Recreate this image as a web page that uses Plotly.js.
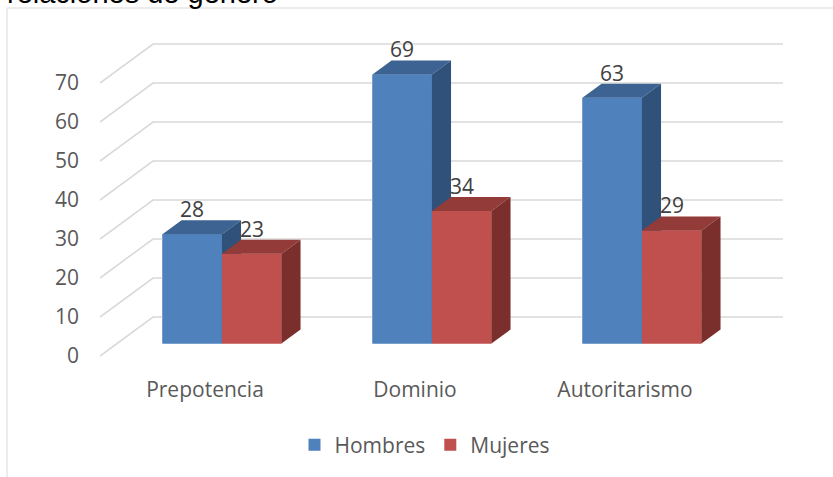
<!DOCTYPE html>
<html>
<head>
<meta charset="utf-8">
<script src="https://cdn.plot.ly/plotly-3.0.1.min.js"></script>
<style>html,body{margin:0;padding:0;background:#fff;}#chart{width:833px;height:477px;}</style>
</head>
<body>
<div id="chart"></div>
<script>
// ---- data ----
const categories = ['Prepotencia', 'Dominio', 'Autoritarismo'];
const hombres = [28, 69, 63];
const mujeres = [23, 34, 29];
const seriesNames = ['Hombres', 'Mujeres'];
const yTicks = [0, 10, 20, 30, 40, 50, 60, 70];
const titleText = 'relaciones de género';

// ---- style / 3D projection constants ----
const PX_PER_X = 210, PX_PER_Y = 3.9;
const DX = 53 / PX_PER_X;   // full depth, x units
const DY = 39 / PX_PER_Y;   // full depth, y units
const F0 = 0.32, F1 = 0.68; // bar front / back depth fractions
const W = 59.5 / PX_PER_X;  // bar width
const faceColors = [
  {front: '#4f81bd', top: '#3c6391', side: '#30527a'},
  {front: '#c0504d', top: '#933b39', side: '#7b2f2d'}
];
const gridColor = '#d9d9d9';
const textColor = '#595959';
const FONT = 'Open Sans, sans-serif';
const FS = 21;

const xRange = [-0.5, -0.5 + 683 / PX_PER_X];
const yRange = [(356 - 360) / PX_PER_Y, (356 - 40) / PX_PER_Y];

const traces = [];

// back wall & left wall grid lines
const gx = [], gy = [];
yTicks.forEach(v => {
  gx.push(-0.5, -0.5 + DX, -0.5 + categories.length + DX, null);
  gy.push(v, v + DY, v + DY, null);
});
traces.push({type: 'scatter', mode: 'lines', x: gx, y: gy, line: {color: gridColor, width: 1.6},
  hoverinfo: 'skip', showlegend: false});

const series = [hombres, mujeres];

// legend / front bars (covered by polygons)
series.forEach((vals, s) => {
  traces.push({
    type: 'bar', name: seriesNames[s],
    x: categories.map((c, i) => i + F0 * DX - W + s * W + W / 2),
    y: vals, base: vals.map(() => F0 * DY), width: W,
    marker: {color: faceColors[s].front, line: {width: 0}},
    hoverinfo: 'skip'
  });
});

// 3D faces
const ddx = (F1 - F0) * DX, ddy = (F1 - F0) * DY;
series.forEach((vals, s) => {
  const faces = {front: {x: [], y: []}, top: {x: [], y: []}, side: {x: [], y: []}};
  vals.forEach((v, i) => {
    const xl = i + F0 * DX - W + s * W, xr = xl + W;
    const b = F0 * DY, t = b + v;
    faces.front.x.push(xl, xr, xr, xl, null);
    faces.front.y.push(b, b, t, t, null);
    faces.top.x.push(xl, xr, xr + ddx, xl + ddx, null);
    faces.top.y.push(t, t, t + ddy, t + ddy, null);
    faces.side.x.push(xr, xr + ddx, xr + ddx, xr, null);
    faces.side.y.push(b, b + ddy, t + ddy, t, null);
  });
  ['front', 'top', 'side'].forEach(k => {
    traces.push({type: 'scatter', mode: 'lines', fill: 'toself',
      x: faces[k].x, y: faces[k].y,
      fillcolor: faceColors[s][k], line: {width: 0, color: faceColors[s][k]},
      hoverinfo: 'skip', showlegend: false});
  });
});

// data labels
const annotations = [];
series.forEach((vals, s) => {
  vals.forEach((v, i) => {
    const xc = i + F0 * DX - W + s * W + W / 2;
    annotations.push({x: xc, y: F0 * DY + v + ddy, xref: 'x', yref: 'y', text: String(v),
      showarrow: false, yanchor: 'bottom', xanchor: 'center', yshift: -5,
      font: {family: FONT, size: FS, color: '#404040'}});
  });
});
// clipped title at top (the reference shows only its lower part)
annotations.push({x: (5 - 100) / 683, y: (360 - 11) / 320, xref: 'paper', yref: 'paper',
  text: titleText, showarrow: false, xanchor: 'left', yanchor: 'bottom',
  font: {family: 'Liberation Sans, Arial, sans-serif', size: 29, color: '#000000'}});

const layout = {
  width: 833, height: 477,
  margin: {l: 100, r: 50, t: 40, b: 117, pad: 0},
  paper_bgcolor: '#ffffff', plot_bgcolor: 'rgba(0,0,0,0)',
  barmode: 'overlay',
  hovermode: false,
  showlegend: true,
  legend: {orientation: 'h', x: (425 - 100) / 683, xanchor: 'center', y: (360 - 445) / 320, yanchor: 'middle',
    font: {family: FONT, size: FS, color: textColor}, itemwidth: 30, traceorder: 'normal'},
  xaxis: {range: xRange, tickmode: 'array', tickvals: categories.map((c, i) => i), ticktext: categories,
    showgrid: false, zeroline: false, showline: false, ticks: '', ticklabelstandoff: 15,
    tickfont: {family: FONT, size: FS, color: textColor}, fixedrange: true},
  yaxis: {range: yRange, tickmode: 'array', tickvals: yTicks, ticktext: yTicks.map(String),
    showgrid: false, zeroline: false, showline: false, ticks: '', ticklabelstandoff: 20,
    tickfont: {family: FONT, size: FS, color: textColor}, fixedrange: true},
  annotations: annotations,
  shapes: [{type: 'rect', xref: 'paper', yref: 'paper',
    x0: (7 - 100) / 683, x1: (845 - 100) / 683, y0: (360 - 495) / 320, y1: (360 - 8) / 320,
    line: {color: gridColor, width: 1}, fillcolor: 'rgba(0,0,0,0)', layer: 'below'}]
};

Plotly.newPlot('chart', traces, layout, {displayModeBar: false, staticPlot: true});
</script>
</body>
</html>
